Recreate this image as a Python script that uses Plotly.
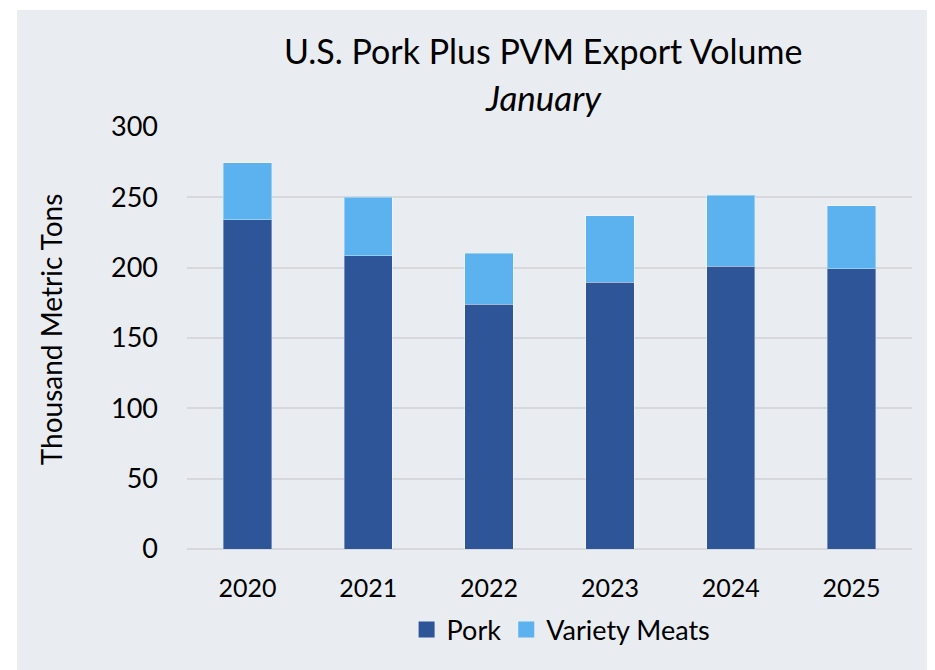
import plotly.graph_objects as go

# January export volume, thousand metric tons
years = ["2020", "2021", "2022", "2023", "2024", "2025"]
pork = [234.0, 208.5, 174.1, 189.5, 201.1, 199.2]
variety_meats = [40.6, 41.5, 36.3, 47.4, 50.5, 44.8]

pork_color = "#2E5597"
vm_color = "#5BB2EE"
panel_bg = "#E9ECF1"
font_name = "Lato"
bar_edge = dict(color="rgba(255,255,255,0.35)", width=1)

fig = go.Figure()
fig.add_trace(go.Bar(x=years, y=pork, name="Pork", showlegend=False,
                     marker=dict(color=pork_color, line=bar_edge)))
fig.add_trace(go.Bar(x=years, y=variety_meats, name="Variety Meats", showlegend=False,
                     marker=dict(color=vm_color, line=bar_edge)))

# legend-only entries so the swatches come out as big squares
for name, col in [("Pork", pork_color), ("Variety Meats", vm_color)]:
    fig.add_trace(go.Scatter(x=[None], y=[None], mode="markers", name=name,
                             marker=dict(symbol="square", size=17, color=col)))

# gray panel behind everything, leaving a thin white edge top/left
fig.add_shape(type="rect", xref="paper", yref="paper",
              x0=-0.2345, x1=1.0262, y0=-0.30, y1=1.2773,
              fillcolor=panel_bg, line=dict(width=0), layer="below")

fig.add_annotation(text="U.S. Pork Plus PVM Export Volume", xref="paper", yref="paper",
                   x=0.491, y=1.182, xanchor="center", yanchor="middle", showarrow=False,
                   font=dict(family=font_name, size=34, color="#000000"))
fig.add_annotation(text="<i>January</i>", xref="paper", yref="paper",
                   x=0.492, y=1.071, xanchor="center", yanchor="middle", showarrow=False,
                   font=dict(family=font_name, size=35, color="#000000"))
fig.add_annotation(text="Thousand Metric Tons", xref="paper", yref="paper",
                   x=-0.1875, y=0.521, xanchor="center", yanchor="middle",
                   showarrow=False, textangle=-90,
                   font=dict(family=font_name, size=28, color="#000000"))

fig.update_layout(
    width=935, height=670,
    barmode="stack", bargap=0.6,
    margin=dict(l=179, r=31, t=119, b=129),
    paper_bgcolor="white", plot_bgcolor="rgba(0,0,0,0)",
    font=dict(family=font_name, size=25, color="#000000"),
    showlegend=True,
    legend=dict(orientation="h", x=0.516, xanchor="center", y=-0.192, yanchor="middle",
                bgcolor="rgba(0,0,0,0)", font=dict(size=27), traceorder="normal",
                itemwidth=30),
)
fig.update_xaxes(showgrid=False, zeroline=False, showline=False,
                 ticks="", ticklabelstandoff=22, tickfont=dict(size=25))
fig.update_yaxes(range=[0, 300], dtick=50, showgrid=True, gridcolor="#D6D8DB", gridwidth=1.5,
                 zeroline=True, zerolinecolor="#D6D8DB", zerolinewidth=1.5,
                 showline=False, ticks="", ticklabelstandoff=28, tickfont=dict(size=27))

fig.write_html("out.html")
